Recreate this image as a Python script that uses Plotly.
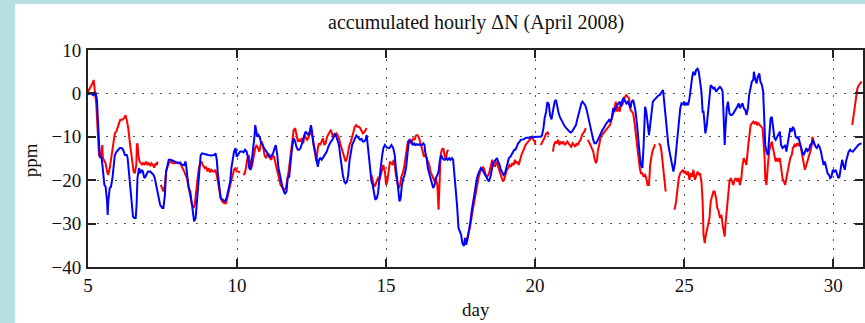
import plotly.graph_objects as go

# ---------------- data ----------------
day_blue = [
    5.00, 5.10, 5.18, 5.26, 5.30, 5.35, 5.39, 5.46, 5.51, 5.55, 5.59, 5.64, 5.66, 5.68, 5.73, 5.77, 5.82, 5.86, 5.90, 5.96,
    6.02, 6.07, 6.13, 6.18, 6.24, 6.30, 6.33, 6.37, 6.42, 6.46, 6.51, 6.55, 6.60, 6.63, 6.66, 6.71, 6.75, 6.80, 6.84, 6.89,
    6.93, 6.98, 7.02, 7.09, 7.15, 7.20, 7.24, 7.29, 7.36, 7.42, 7.49, 7.53, 7.58, 7.62, 7.67, 7.71, 7.78, 7.85, 7.91, 8.03,
    8.09, 8.16, 8.23, 8.27, 8.29, 8.34, 8.38, 8.43, 8.47, 8.52, 8.56, 8.61, 8.65, 8.70, 8.74, 8.78, 8.83, 8.92, 9.03, 9.14,
    9.23, 9.28, 9.32, 9.36, 9.41, 9.45, 9.52, 9.59, 9.65, 9.72, 9.77, 9.81, 9.86, 9.90, 9.95, 9.99, 10.03, 10.10, 10.17, 10.22,
    10.27, 10.32, 10.37, 10.41, 10.46, 10.50, 10.55, 10.59, 10.61, 10.63, 10.68, 10.72, 10.77, 10.81, 10.86, 10.90, 10.95, 10.99,
    11.04, 11.08, 11.12, 11.17, 11.21, 11.26, 11.30, 11.35, 11.39, 11.44, 11.48, 11.53, 11.57, 11.61, 11.66, 11.68, 11.70, 11.75,
    11.77, 11.81, 11.86, 11.90, 11.95, 11.99, 12.04, 12.08, 12.13, 12.17, 12.22, 12.26, 12.30, 12.35, 12.39, 12.44, 12.48, 12.51,
    12.53, 12.57, 12.62, 12.66, 12.71, 12.75, 12.79, 12.84, 12.88, 12.93, 12.97, 13.02, 13.06, 13.11, 13.15, 13.20, 13.24, 13.28,
    13.33, 13.37, 13.42, 13.46, 13.51, 13.55, 13.60, 13.64, 13.69, 13.73, 13.77, 13.82, 13.86, 13.91, 13.95, 14.00, 14.04, 14.09,
    14.13, 14.18, 14.22, 14.26, 14.31, 14.35, 14.38, 14.42, 14.47, 14.51, 14.55, 14.60, 14.64, 14.69, 14.73, 14.78, 14.82, 14.87,
    14.91, 14.96, 15.00, 15.04, 15.11, 15.18, 15.24, 15.29, 15.33, 15.38, 15.42, 15.45, 15.49, 15.53, 15.58, 15.62, 15.67, 15.71,
    15.76, 15.80, 15.85, 15.89, 15.94, 15.98, 16.02, 16.07, 16.11, 16.16, 16.20, 16.25, 16.29, 16.31, 16.36, 16.40, 16.45, 16.49,
    16.54, 16.58, 16.63, 16.67, 16.72, 16.76, 16.80, 16.85, 16.89, 16.94, 16.98, 17.03, 17.07, 17.12, 17.16, 17.21, 17.25, 17.29,
    17.34, 17.38, 17.43, 17.47, 17.52, 17.56, 17.61, 17.65, 17.69, 17.74, 17.78, 17.83, 17.87, 17.92, 17.96, 18.01, 18.05, 18.10,
    18.14, 18.18, 18.23, 18.27, 18.32, 18.36, 18.41, 18.45, 18.50, 18.54, 18.59, 18.63, 18.68, 18.72, 18.76, 18.81, 18.85, 18.90,
    18.94, 18.99, 19.03, 19.08, 19.12, 19.17, 19.21, 19.25, 19.30, 19.34, 19.39, 19.43, 19.48, 19.52, 19.61, 19.70, 19.79, 19.88,
    19.97, 20.06, 20.15, 20.19, 20.23, 20.28, 20.32, 20.37, 20.41, 20.46, 20.50, 20.55, 20.60, 20.66, 20.70, 20.75, 20.79, 20.83,
    20.88, 20.92, 20.97, 21.01, 21.06, 21.10, 21.15, 21.19, 21.24, 21.28, 21.33, 21.37, 21.41, 21.46, 21.50, 21.55, 21.59, 21.64,
    21.68, 21.73, 21.77, 21.81, 21.86, 21.90, 21.95, 21.99, 22.04, 22.08, 22.13, 22.17, 22.22, 22.26, 22.30, 22.35, 22.39, 22.44,
    22.48, 22.53, 22.57, 22.62, 22.66, 22.71, 22.75, 22.79, 22.84, 22.88, 22.93, 22.97, 23.02, 23.06, 23.11, 23.15, 23.20, 23.24,
    23.29, 23.33, 23.37, 23.42, 23.46, 23.51, 23.55, 23.60, 23.64, 23.66, 23.69, 23.73, 23.78, 23.82, 23.86, 23.91, 23.95, 24.00,
    24.04, 24.09, 24.13, 24.18, 24.22, 24.26, 24.29, 24.33, 24.38, 24.42, 24.47, 24.51, 24.55, 24.60, 24.64, 24.69, 24.73, 24.78,
    24.82, 24.87, 24.91, 24.96, 25.00, 25.04, 25.09, 25.13, 25.18, 25.22, 25.27, 25.31, 25.36, 25.40, 25.45, 25.49, 25.53, 25.58,
    25.62, 25.65, 25.69, 25.71, 25.76, 25.80, 25.85, 25.89, 25.94, 25.98, 26.02, 26.07, 26.11, 26.16, 26.20, 26.25, 26.29, 26.34,
    26.36, 26.38, 26.43, 26.47, 26.52, 26.56, 26.60, 26.65, 26.69, 26.74, 26.78, 26.83, 26.87, 26.92, 26.96, 27.00, 27.05, 27.09,
    27.14, 27.18, 27.23, 27.27, 27.32, 27.34, 27.38, 27.43, 27.47, 27.52, 27.56, 27.61, 27.65, 27.67, 27.70, 27.72, 27.76, 27.81,
    27.85, 27.90, 27.94, 27.98, 28.03, 28.07, 28.12, 28.16, 28.21, 28.25, 28.30, 28.34, 28.39, 28.43, 28.47, 28.52, 28.56, 28.61,
    28.65, 28.70, 28.74, 28.79, 28.83, 28.87, 28.92, 28.96, 29.01, 29.05, 29.10, 29.14, 29.19, 29.23, 29.28, 29.32, 29.37, 29.41,
    29.45, 29.50, 29.54, 29.59, 29.63, 29.68, 29.72, 29.77, 29.81, 29.86, 29.90, 29.94, 29.99, 30.03, 30.08, 30.12, 30.17, 30.21,
    30.26, 30.30, 30.34, 30.39, 30.43, 30.48, 30.52, 30.57, 30.61, 30.66, 30.70, 30.75, 30.79, 30.84, 30.88, 30.95,
]
ppm_blue = [
    -0.2, 0.0, -0.4, 0.0, -1.5, -8.8, -14.2, -14.9, -19.2, -21.1, -21.5, -24.9, -28.0, -24.9, -21.8, -21.5, -19.5, -16.5, -14.2, -13.4,
    -13.0, -12.6, -12.6, -13.0, -14.2, -14.2, -14.9, -18.0, -21.8, -25.7, -28.4, -28.7, -28.7, -25.7, -19.5, -17.2, -18.4, -17.6, -18.0, -19.5,
    -19.2, -18.4, -18.0, -18.0, -18.4, -18.8, -19.5, -21.1, -23.4, -25.7, -26.4, -26.4, -23.4, -18.0, -16.5, -15.3, -15.3, -15.6, -15.7, -16.1,
    -15.9, -16.5, -16.5, -15.7, -16.5, -19.5, -21.8, -22.6, -24.9, -27.2, -29.5, -28.7, -24.9, -21.1, -17.2, -14.2, -13.8, -14.0, -14.2, -14.3,
    -14.2, -13.8, -15.3, -18.8, -21.1, -24.1, -24.5, -24.9, -24.1, -21.8, -20.3, -17.2, -14.9, -13.4, -12.6, -14.6, -14.2, -13.4, -13.4, -13.6,
    -13.0, -13.4, -14.9, -17.2, -17.6, -15.3, -11.9, -9.6, -7.3, -8.0, -10.0, -9.6, -10.3, -11.5, -11.9, -12.6, -13.0, -13.4,
    -14.2, -14.6, -14.6, -14.2, -13.8, -12.6, -11.9, -14.2, -17.2, -18.8, -20.3, -21.8, -22.6, -23.2, -22.6, -21.1, -19.5, -19.2,
    -17.2, -14.9, -11.9, -10.3, -11.1, -12.3, -13.0, -13.0, -12.6, -11.9, -10.7, -9.6, -8.8, -9.2, -9.6, -8.8, -7.3, -8.4,
    -10.0, -11.9, -13.4, -15.3, -16.9, -15.3, -14.9, -15.3, -14.9, -14.2, -13.8, -13.3, -12.3, -11.5, -11.1, -10.7, -9.6, -9.2,
    -10.0, -10.7, -11.9, -14.2, -16.9, -18.8, -20.3, -20.7, -20.3, -18.8, -15.7, -13.4, -11.9, -11.1, -10.3, -9.7, -10.0, -10.3,
    -10.7, -10.5, -11.1, -11.1, -10.7, -9.6, -11.9, -14.2, -18.0, -20.3, -21.1, -23.4, -24.5, -24.1, -23.0, -19.5, -16.5, -14.2,
    -12.6, -11.9, -12.3, -12.5, -12.6, -11.9, -12.6, -14.2, -17.2, -20.3, -23.4, -24.9, -24.1, -21.1, -19.5, -18.8, -17.2, -14.2,
    -11.1, -10.7, -11.1, -11.9, -11.5, -11.9, -11.7, -11.9, -11.7, -11.9, -11.9, -11.5, -11.9, -13.4, -14.9, -17.2, -18.4, -19.5,
    -20.3, -21.8, -21.1, -19.5, -18.8, -18.0, -15.7, -14.2, -14.9, -15.3, -15.3, -14.9, -15.3, -14.9, -15.3, -14.9, -15.3, -18.0,
    -21.8, -25.7, -31.0, -31.8, -32.6, -34.5, -35.2, -33.3, -34.9, -33.3, -31.8, -29.5, -27.2, -24.9, -22.6, -21.1, -19.5, -18.4,
    -17.6, -17.2, -17.6, -18.0, -18.8, -19.2, -19.9, -20.3, -19.2, -17.6, -16.1, -15.7, -15.3, -14.9, -15.7, -16.5, -17.6, -18.4,
    -18.8, -18.4, -17.2, -15.7, -14.9, -14.6, -14.2, -13.8, -13.0, -13.0, -11.9, -11.5, -11.1, -10.7, -10.6, -10.2, -10.2, -10.1,
    -10.0, -10.0, -10.0, -10.0, -9.7, -8.0, -5.7, -4.2, -2.0, -2.5, -5.0, -6.0, -4.0, -1.8, -1.5, -3.4, -4.6, -5.4,
    -6.1, -6.9, -7.3, -7.7, -8.0, -8.4, -8.8, -9.0, -8.8, -8.4, -8.0, -7.3, -6.1, -4.6, -3.1, -2.3, -1.9, -2.3,
    -2.7, -3.8, -5.0, -6.5, -8.0, -9.6, -10.7, -11.5, -11.5, -11.1, -10.3, -9.6, -9.2, -8.4, -8.0, -7.3, -6.9, -6.5,
    -6.1, -6.5, -5.7, -3.4, -4.2, -3.1, -2.7, -2.3, -1.9, -3.1, -1.5, -1.1, -1.9, -2.3, -1.9, -2.7, -3.4, -1.9,
    -1.5, -2.7, -4.2, -7.3, -11.1, -14.2, -16.5, -17.2, -11.9, -5.7, -3.1, -4.2, -7.3, -9.6, -7.3, -3.4, -1.9, -1.5,
    -1.1, -0.8, -0.5, -0.4, 0.0, 0.4, 0.8, -1.9, -5.7, -9.6, -11.9, -13.4, -14.9, -16.5, -18.0, -16.1, -13.4, -10.3,
    -6.5, -3.4, -2.3, -2.5, -1.9, -2.7, -2.3, -2.7, -1.1, 1.5, 3.8, 5.0, 4.2, 5.4, 5.7, 5.0, 2.7, 0.4,
    -4.2, -4.2, -7.3, -9.2, -7.3, -4.2, -0.4, 1.9, 1.5, 1.1, 1.3, 0.4, 0.8, 1.1, 1.5, 1.1, 0.4, -8.0,
    -11.9, -8.8, -3.4, -1.9, -4.6, -5.0, -5.0, -4.6, -4.2, -3.8, -3.1, -2.3, -3.4, -2.7, -2.3, -3.4, -3.8, -5.0,
    -3.4, -0.4, 1.9, 2.7, 3.1, 5.0, 3.4, 2.3, 3.8, 4.6, 2.7, 1.9, 0.4, -1.9, -8.0, -11.9, -13.4, -14.2,
    -10.3, -5.7, -5.4, -7.3, -10.3, -10.7, -10.0, -9.6, -8.8, -11.9, -12.6, -12.3, -11.9, -13.4, -11.9, -10.3, -8.0, -8.8,
    -7.7, -8.4, -10.0, -10.3, -10.0, -11.1, -12.6, -13.4, -14.2, -13.4, -12.6, -13.3, -13.0, -11.9, -11.5, -10.7, -11.9, -12.3,
    -12.6, -11.9, -12.3, -13.4, -14.9, -16.5, -15.7, -17.2, -18.4, -18.8, -19.5, -19.2, -17.6, -18.0, -17.6, -18.4, -19.5, -19.2,
    -17.2, -15.3, -16.5, -17.6, -15.7, -14.2, -13.4, -13.0, -13.3, -13.4, -13.0, -12.6, -12.3, -11.9, -11.7, -11.5,
]

day_red = [
    5.00, 5.06, 5.10, 5.15, 5.19, 5.23, 5.28, 5.32, 5.37, 5.41, 5.46, 5.48, 5.50, 5.55, 5.59, 5.64, 5.68, 5.73, 5.77, 5.82,
    5.86, 5.90, 5.95, 5.99, 6.04, 6.08, 6.15, 6.22, 6.26, 6.31, 6.35, 6.40, 6.44, 6.48, 6.53, 6.57, 6.62, 6.64, 6.66, 6.69,
    6.73, 6.78, 6.82, 6.86, 6.91, 6.95, 7.00, 7.04, 7.09, 7.13, 7.18, 7.22, 7.27, 7.31, 7.33, 7.38,
    7.44, 7.49, 7.53, 7.58, 7.62, 7.67, 7.71, 7.78, 7.85, 7.91, 8.00, 8.09, 8.16, 8.23, 8.27, 8.32, 8.36, 8.40, 8.45, 8.49,
    8.54, 8.58, 8.63, 8.67, 8.72, 8.76, 8.81, 8.85, 8.92, 8.96, 9.01, 9.05, 9.10, 9.14, 9.19, 9.23, 9.27, 9.32, 9.36, 9.41,
    9.45, 9.50, 9.57, 9.63, 9.68, 9.72, 9.77, 9.81, 9.86, 9.90, 9.94, 9.99, 10.03, 10.10, 10.15,
    10.21, 10.26, 10.30, 10.34, 10.39, 10.43, 10.48, 10.52, 10.57, 10.61, 10.66, 10.70, 10.75, 10.79, 10.83, 10.88, 10.92, 10.97,
    11.01, 11.06, 11.10, 11.15, 11.19, 11.24, 11.28, 11.32, 11.37, 11.41, 11.46, 11.50, 11.55, 11.59, 11.64, 11.68, 11.73, 11.77,
    11.81, 11.86, 11.90, 11.95, 11.99, 12.04, 12.08, 12.13, 12.17, 12.22, 12.26, 12.30, 12.35, 12.39, 12.44, 12.48, 12.53, 12.57,
    12.62, 12.66, 12.71, 12.75, 12.79, 12.84, 12.88, 12.93, 12.97, 13.02, 13.06, 13.11, 13.15, 13.20, 13.24, 13.28, 13.33, 13.37,
    13.42, 13.46, 13.51, 13.55, 13.60, 13.64, 13.69, 13.73, 13.77, 13.82, 13.86, 13.91, 13.95, 14.00, 14.04, 14.09, 14.13, 14.18,
    14.22, 14.26, 14.31, 14.35, 14.43,
    14.51, 14.55, 14.60, 14.64, 14.69, 14.73, 14.78, 14.82, 14.87, 14.91, 14.96, 15.00, 15.04, 15.09, 15.13, 15.18, 15.22, 15.25,
    15.29, 15.33, 15.38, 15.42, 15.47, 15.51, 15.56, 15.60, 15.65, 15.69, 15.73, 15.78, 15.82, 15.87, 15.91, 15.96, 16.00, 16.05,
    16.09, 16.14, 16.18, 16.23, 16.27, 16.31, 16.36, 16.40, 16.45, 16.49, 16.54, 16.58, 16.63, 16.67, 16.72, 16.76, 16.78, 16.80,
    16.83, 16.87, 16.92, 16.96, 17.00, 17.05, 17.09, 17.40,
    17.69, 17.74, 17.81, 17.92, 18.03, 18.10, 18.16, 18.21, 18.25, 18.30, 18.34, 18.39, 18.43, 18.47, 18.52, 18.56, 18.61, 18.65,
    18.70, 18.74, 18.79, 18.83, 18.88, 18.92, 18.96, 19.01, 19.05, 19.10, 19.14, 19.19, 19.23, 19.28, 19.32, 19.37, 19.41, 19.45,
    19.50, 19.54, 19.59, 19.63, 19.68, 19.72, 19.77, 19.81, 19.86, 19.90, 19.94, 19.99, 20.01, 20.10,
    20.19, 20.26, 20.31, 20.37, 20.42, 20.46, 20.53,
    20.60, 20.63, 20.68, 20.72, 20.77, 20.81, 20.86, 20.90, 20.95, 20.99, 21.04, 21.08, 21.12, 21.17, 21.21, 21.26, 21.30, 21.35,
    21.39, 21.44, 21.48, 21.53, 21.57, 21.61, 21.66, 21.70, 21.73,
    21.77, 21.81, 21.86, 21.90, 21.95, 21.99, 22.04, 22.08, 22.10, 22.15, 22.19, 22.24, 22.28, 22.33, 22.37, 22.42, 22.46, 22.51,
    22.55, 22.59, 22.64, 22.66, 22.71, 22.75, 22.79, 22.84, 22.88, 22.93, 22.97, 23.02, 23.06, 23.11, 23.15, 23.20, 23.24, 23.29,
    23.33, 23.37, 23.42, 23.46, 23.51, 23.55, 23.60, 23.64, 23.69, 23.73, 23.77, 23.82, 23.84, 23.86, 23.91, 23.95, 24.00, 24.02,
    24.08,
    24.15, 24.20, 24.24, 24.29, 24.33, 24.38, 24.50,
    24.67, 24.69, 24.73, 24.78, 24.82, 24.87, 24.91, 24.96, 25.00, 25.04, 25.09, 25.13, 25.18, 25.22, 25.27, 25.31, 25.36, 25.40,
    25.45, 25.49, 25.53, 25.58, 25.62, 25.65, 25.69, 25.71, 25.76, 25.80, 25.85, 25.89, 25.94, 25.98, 26.02, 26.07, 26.11, 26.16,
    26.20, 26.25, 26.29, 26.34, 26.36, 26.38, 26.43, 26.47, 26.52, 26.56, 26.60, 26.65, 26.69, 26.74, 26.78, 26.83, 26.87, 26.92,
    26.96, 27.00, 27.05, 27.09, 27.14, 27.18, 27.23, 27.27, 27.32, 27.36, 27.41, 27.45, 27.49, 27.54, 27.58, 27.63, 27.67, 27.70,
    27.72, 27.76, 27.81, 27.85, 27.90, 27.94, 27.98, 28.03, 28.07, 28.12, 28.16, 28.21, 28.25, 28.30, 28.34, 28.39, 28.43, 28.47,
    28.52, 28.56, 28.61, 28.65, 28.70, 28.74, 28.79, 28.83, 28.87, 28.92, 28.96, 29.01, 29.05, 29.10, 29.14, 29.19, 29.23, 29.28,
    29.30, 29.32, 29.34, 29.37, 30.00,
    30.64, 30.68, 30.72, 30.77, 30.81, 30.86, 30.90, 30.95,
]
ppm_red = [
    0.4, 1.1, 1.5, 2.3, 3.1, 0.8, -2.7, -8.0, -14.2, -14.9, -12.6, -11.9, -14.9, -15.7, -16.1, -18.0, -18.8, -17.2, -15.3, -13.4,
    -11.1, -9.2, -8.8, -7.7, -6.9, -6.1, -6.1, -5.6, -5.0, -6.5, -8.0, -11.1, -13.4, -15.7, -18.0, -18.4, -16.5, -11.9, -11.5, -14.2,
    -15.7, -16.1, -16.5, -15.9, -16.5, -15.7, -16.5, -16.1, -16.6, -16.1, -16.5, -17.1, -16.1, -16.5, -15.7, None,
    -21.1, -21.8, -22.6, -21.1, -18.0, -16.9, -16.1, -15.7, -16.1, -16.1, -15.9, -16.1, -16.9, -18.0, -18.8, -19.5, -21.1, -22.6, -24.1, -25.7,
    -26.4, -25.7, -22.6, -19.5, -17.2, -16.1, -15.7, -16.5, -17.2, -16.9, -18.0, -17.2, -18.2, -17.6, -18.0, -18.0, -17.6, -18.8, -20.3, -22.6,
    -24.1, -24.9, -25.3, -25.3, -24.1, -22.6, -21.1, -19.9, -18.8, -17.6, -17.1, -17.9, -18.0, -18.2, None,
    -18.8, -18.4, -17.2, -15.3, -14.2, -15.7, -17.2, -16.1, -14.2, -12.6, -11.9, -12.6, -13.4, -11.9, -11.1, -12.3, -14.2, -14.9,
    -14.2, -13.8, -14.9, -15.3, -14.2, -14.6, -15.7, -17.2, -18.8, -19.9, -21.1, -21.5, -21.8, -22.2, -21.8, -20.3, -18.0, -15.7,
    -13.4, -10.3, -8.4, -8.0, -9.6, -11.1, -10.7, -11.1, -10.3, -11.5, -9.6, -10.0, -10.7, -10.3, -9.6, -8.8, -10.0, -11.9,
    -13.8, -15.7, -12.6, -11.5, -11.9, -11.1, -10.3, -11.9, -11.5, -10.0, -9.6, -8.8, -8.4, -9.6, -10.0, -9.6, -9.2, -9.6,
    -10.3, -11.5, -12.6, -13.8, -14.9, -15.7, -14.9, -13.4, -11.9, -11.1, -10.3, -8.8, -7.7, -7.3, -7.7, -7.7, -8.0, -8.8,
    -9.2, -9.0, -8.4, -8.0, None,
    -18.8, -20.3, -21.5, -21.1, -20.3, -19.5, -19.9, -18.8, -17.2, -16.5, -18.0, -21.1, -20.3, -18.0, -15.7, -16.1, -16.5, -15.3,
    -16.5, -18.8, -20.3, -21.8, -21.1, -19.2, -18.4, -17.2, -14.9, -12.6, -11.1, -10.7, -11.5, -11.1, -10.3, -10.7, -9.7, -9.6,
    -10.0, -11.1, -11.9, -13.4, -14.6, -14.2, -14.9, -15.7, -16.5, -18.0, -18.8, -19.5, -20.3, -19.5, -21.1, -26.8, -21.8, -15.7,
    -14.2, -13.0, -12.6, -14.2, -15.3, -13.4, -13.0, None,
    -34.1, -33.0, -31.0, -26.4, -21.8, -19.5, -18.0, -17.2, -16.9, -17.6, -18.8, -19.2, -18.8, -18.0, -16.5, -15.3, -16.5, -16.9,
    -15.7, -16.5, -17.2, -18.4, -19.2, -20.3, -19.9, -18.8, -17.6, -17.2, -16.5, -16.9, -16.1, -16.5, -15.3, -16.1, -15.7, -16.5,
    -14.9, -14.2, -13.4, -12.6, -11.9, -11.5, -11.1, -10.7, -10.3, -10.0, -10.7, -11.1, -11.9, None,
    -11.9, -11.1, -10.3, -9.2, -9.0, -9.6, None,
    -13.4, -11.9, -11.1, -11.5, -10.7, -11.9, -11.1, -11.5, -11.1, -11.9, -11.5, -11.1, -11.5, -11.9, -12.3, -11.5, -11.9, -12.3,
    -11.5, -11.9, -11.1, -10.7, -9.6, -9.2, -8.7, -8.0, None,
    -10.7, -11.1, -11.9, -12.6, -13.4, -14.9, -16.1, -15.3, -13.4, -11.9, -10.3, -9.6, -9.2, -8.7, -8.4, -8.0, -7.7, -7.3,
    -6.5, -5.4, -4.2, -3.4, -1.9, -4.2, -3.1, -4.2, -2.3, -2.7, -1.5, -0.8, -0.4, -0.8, -1.1, -3.8, -4.2, -4.6,
    -6.5, -8.8, -11.9, -14.9, -17.2, -18.4, -18.4, -19.2, -18.8, -19.5, -21.1, -21.1, -18.0, -16.5, -14.2, -13.0, -12.3, -11.7,
    None,
    -11.5, -11.9, -13.4, -16.5, -19.5, -22.6, None,
    -26.8, -26.4, -24.9, -21.8, -19.5, -18.4, -18.0, -17.6, -18.4, -17.9, -18.8, -18.0, -19.9, -18.4, -19.2, -17.6, -19.9, -19.2,
    -18.0, -18.8, -18.4, -20.3, -24.9, -32.6, -34.5, -33.3, -31.8, -30.3, -28.7, -24.9, -23.4, -22.6, -22.6, -24.1, -26.4, -27.2,
    -28.7, -28.0, -30.3, -31.8, -33.0, -30.7, -26.4, -22.6, -20.3, -19.5, -20.3, -21.1, -19.9, -19.5, -20.3, -19.5, -21.1, -19.5,
    -16.5, -14.9, -15.7, -16.5, -12.6, -9.6, -7.3, -6.9, -6.5, -6.9, -6.5, -7.3, -6.9, -7.3, -7.7, -8.0, -11.9, -14.9,
    -19.5, -21.1, -16.5, -13.4, -11.9, -11.1, -12.6, -14.2, -15.7, -14.9, -15.7, -14.9, -17.2, -19.5, -20.3, -21.1, -19.5, -18.0,
    -16.5, -14.9, -14.2, -12.6, -11.9, -12.3, -11.5, -11.9, -11.5, -12.6, -14.2, -15.7, -17.6, -16.5, -15.7, -14.2, -13.4, -11.9,
    -10.0, -10.3, -11.1, -11.9, None,
    -7.3, -5.0, -2.7, -0.4, 1.1, 1.9, 2.3, 2.7,
]

x_ticks = [5, 10, 15, 20, 25, 30]
y_ticks = [10, 0, -10, -20, -30, -40]
title_text = "accumulated hourly \u0394N (April 2008)"
x_label = "day"
y_label = "ppm"

# ---------------- figure ----------------
FONT = "Liberation Serif"

fig = go.Figure()
fig.add_trace(go.Scatter(x=day_red, y=ppm_red, mode="lines",
                         line=dict(color="#ff0000", width=2), connectgaps=False,
                         hoverinfo="skip", showlegend=False))
fig.add_trace(go.Scatter(x=day_blue, y=ppm_blue, mode="lines",
                         line=dict(color="#0000ff", width=2), connectgaps=False,
                         hoverinfo="skip", showlegend=False))

axis_common = dict(
    showline=True, linecolor="#222222", linewidth=2, mirror="ticks",
    ticks="inside", ticklen=8, tickwidth=1.5, tickcolor="#222222",
    showgrid=True, gridcolor="#555555", gridwidth=1, griddash="2px,7px",
    zeroline=False, tickfont=dict(family=FONT, size=19, color="#111111"),
)

fig.update_xaxes(range=[5, 31], tickvals=x_ticks, ticktext=[str(v) for v in x_ticks],
                 ticklabelstandoff=0, **axis_common)
fig.update_yaxes(range=[-40, 10], tickvals=y_ticks,
                 ticktext=[("\u2212" + str(-v)) if v < 0 else str(v) for v in y_ticks],
                 ticklabelstandoff=1, **axis_common)

fig.update_layout(
    width=865, height=323,
    margin=dict(l=88, r=0, t=50, b=56),
    paper_bgcolor="#b8dfe1",
    plot_bgcolor="white",
    shapes=[dict(type="rect", xref="paper", yref="paper",
                 x0=-0.094, x1=1.05, y0=-0.3, y1=1.212,
                 fillcolor="white", line=dict(width=0), layer="below")],
    annotations=[
        dict(text=title_text, xref="paper", yref="paper", x=0.5, y=1.129,
             showarrow=False, font=dict(family=FONT, size=20, color="#111111"),
             xanchor="center", yanchor="middle"),
        dict(text=x_label, xref="paper", yref="paper", x=0.5, y=-0.198,
             showarrow=False, font=dict(family=FONT, size=19, color="#111111"),
             xanchor="center", yanchor="middle"),
        dict(text=y_label, xref="paper", yref="paper", x=-0.0746, y=0.493,
             showarrow=False, textangle=-90, font=dict(family=FONT, size=19, color="#111111"),
             xanchor="center", yanchor="middle"),
    ],
)

fig.write_html("out.html")
